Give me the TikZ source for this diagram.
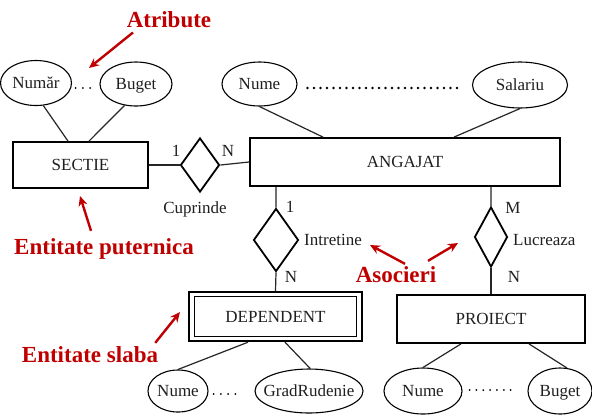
\documentclass[tikz,border=0pt]{standalone}
\usepackage{fontspec}
\setmainfont{Liberation Serif}
\usetikzlibrary{shapes.geometric,arrows.meta}
\definecolor{lblred}{HTML}{C00000}
\definecolor{ink}{HTML}{1F1F1F}
\begin{document}
\begin{tikzpicture}[x=1bp,y=-1bp,
  txt/.style={font=\fontsize{17bp}{20bp}\selectfont, text=ink},
  entbox/.style={draw=black, line width=1.8bp, rectangle, inner sep=0pt, txt, text height=11bp, text depth=0bp},
  attr/.style={draw=black, ellipse, line width=1.1bp, inner sep=0pt, txt, text height=11bp, text depth=0bp},
  rel/.style={draw=black, diamond, line width=1.8bp, inner sep=0pt},
  conn/.style={line width=1.2bp, draw=black!85},
  card/.style={txt, anchor=base, inner sep=0pt},
  note/.style={text=lblred, font=\fontsize{23bp}{27bp}\selectfont\bfseries, anchor=base, inner sep=0pt},
  callout/.style={draw=lblred, line width=2.4bp, -{Stealth[length=10bp,width=9bp]}},
  bigdots/.style={line width=2.8bp, dash pattern=on 0bp off 6.5bp, line cap=round},
  smalldots/.style={line width=2bp, dash pattern=on 0bp off 7.2bp, line cap=round}
]
\useasboundingbox[fill=white] (0,0) rectangle (592,415);

% entities
\node[entbox, minimum width=135bp, minimum height=46bp] (sectie) at (80.5,165) {SECTIE};
\node[entbox, minimum width=310bp, minimum height=48bp] (angajat) at (405,162) {ANGAJAT};
\node[entbox, line width=2.4bp, minimum width=173bp, minimum height=49bp] (dep) at (275.5,316.5) {DEPENDENT};
\draw[line width=1.3bp] ([shift={(7,6)}]dep.north west) rectangle ([shift={(-7,-6)}]dep.south east);
\node[entbox, minimum width=188bp, minimum height=48bp] (proiect) at (491,319) {PROIECT};

% relationships
\node[rel, minimum width=39bp, minimum height=54bp] (cup) at (200,165) {};
\node[rel, minimum width=45bp, minimum height=63bp] (intr) at (276,240) {};
\node[rel, minimum width=33bp, minimum height=60bp] (lucr) at (491,237) {};

% attributes
\node[attr, minimum width=71bp, minimum height=45bp] (numar) at (36,83) {\makebox[0pt]{Număr}};
\node[attr, minimum width=72bp, minimum height=44bp] (buget1) at (136,84) {\makebox[0pt]{Buget}};
\node[attr, minimum width=75bp, minimum height=44bp] (nume1) at (259.5,84) {\makebox[0pt]{Nume}};
\node[attr, minimum width=95bp, minimum height=46bp] (salariu) at (520,85) {\makebox[0pt]{Salariu}};
\node[attr, minimum width=60bp, minimum height=42bp] (nume2) at (178,391) {\makebox[0pt]{Nume}};
\node[attr, minimum width=108bp, minimum height=44bp] (grad) at (309,391) {\makebox[0pt]{GradRudenie}};
\node[attr, minimum width=78bp, minimum height=46bp] (nume3) at (423,391) {\makebox[0pt]{Nume}};
\node[attr, minimum width=64bp, minimum height=46bp] (buget2) at (560,391) {\makebox[0pt]{Buget}};

% attribute links
\draw[conn] (numar.-72) -- ([xshift=-12.5bp]sectie.north);
\draw[conn] (buget1.-118) -- ([xshift=8.5bp]sectie.north);
\draw[conn] (nume1.south) -- ([xshift=-82bp]angajat.north);
\draw[conn] (salariu.south) -- ([xshift=49bp]angajat.north);
\draw[conn] ([xshift=-27.5bp]dep.south) -- (nume2.north);
\draw[conn] ([xshift=9.5bp]dep.south) -- (grad.87);
\draw[conn] ([xshift=-30bp]proiect.south) -- (nume3.north);
\draw[conn] ([xshift=38bp]proiect.south) -- (buget2.73);

% relationship links
\draw[conn] (sectie.east) -- (cup.west);
\draw[conn] (cup.east) -- (angajat.west);
\draw[conn] ([xshift=-129bp]angajat.south) -- (intr.north);
\draw[conn] (intr.south) -- (dep.north);
\draw[conn] ([xshift=86bp]angajat.south) -- (lucr.north);
\draw[conn] (lucr.south) -- (proiect.north);

% dotted continuations
\draw[smalldots, dash pattern=on 0bp off 7.3bp] ([shift={(3.5,5)}]numar.east) -- ([shift={(-3,4)}]buget1.west);
\draw[bigdots] ([shift={(10,4)}]nume1.east) -- ([shift={(-9,3)}]salariu.west);
\draw[smalldots, dash pattern=on 0bp off 7.25bp] ([shift={(5,3)}]nume2.east) -- ([shift={(-13,3)}]grad.west);
\draw[smalldots, dash pattern=on 0bp off 6.85bp] ([shift={(7,-1)}]nume3.east) -- ([shift={(-11,-1)}]buget2.west);

% cardinalities and relationship names
\node[card] (c1) at (176,156) {1};
\node[card] (c2) at (228,156) {N};
\node[card] (lcup) at (195,213) {Cuprinde};
\node[card] (c3) at (290,212) {1};
\node[card] (c4) at (291,282) {N};
\node[card, anchor=base west] (lintr) at (304,245) {Intretine};
\node[card] (c5) at (513,213) {M};
\node[card] (c6) at (514,282) {N};
\node[card, anchor=base west] (llucr) at (513,245) {Lucreaza};

% red annotations
\node[note] (atr) at (169,27) {Atribute};
\node[note] (put) at (104,254) {Entitate puternica};
\node[note] (sla) at (90,362) {Entitate slaba};
\node[note] (aso) at (396,282) {Asocieri};

\coordinate (atrtip) at (89,68);
\coordinate (puttip) at (80,196);
\coordinate (slatip) at (180,312);
\coordinate (asotipA) at (370,245);
\coordinate (asotipB) at (458,243);

\draw[callout] ([shift={(-36,5)}]atr.south) -- (atrtip);
\draw[callout] ([shift={(-13,-7)}]put.north) -- (puttip);
\draw[callout] ([shift={(-3,-3)}]sla.north east) -- (slatip);
\draw[callout] ([shift={(9,-2)}]aso.north) -- (asotipA);
\draw[callout] ([shift={(32,-5)}]aso.north) -- (asotipB);
\end{tikzpicture}
\end{document}
